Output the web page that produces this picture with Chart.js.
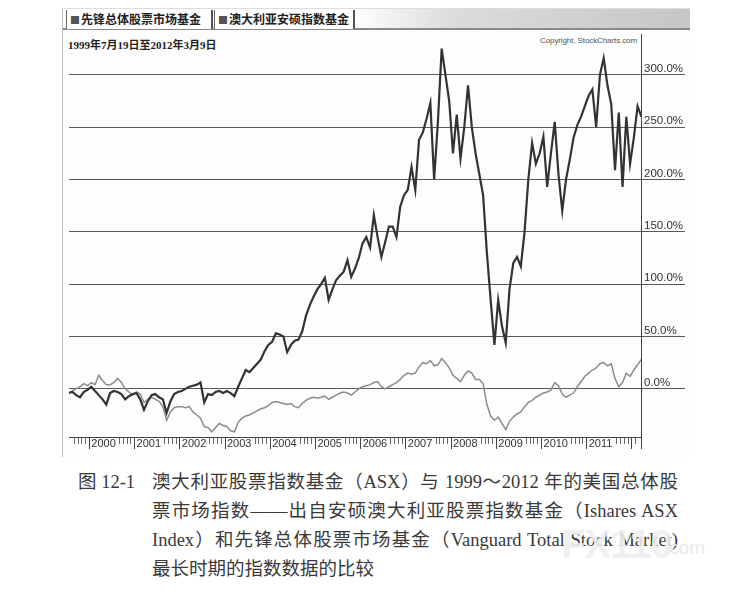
<!DOCTYPE html>
<html><head><meta charset="utf-8">
<script src="https://cdn.jsdelivr.net/npm/chart.js@4.4.1/dist/chart.umd.min.js"></script>
<style>
html,body{margin:0;padding:0;background:#fff;}
body{width:744px;height:597px;position:relative;overflow:hidden;font-family:"Liberation Sans",Arial,sans-serif;}
#frame{position:absolute;left:62px;top:8px;width:628px;height:449px;background:#fdfdfd;border-left:1px solid #bbb;border-top:1px solid #ddd;box-sizing:border-box;}
#legendbar{position:absolute;left:63px;top:9px;width:627px;height:19px;background:linear-gradient(to right,#fff 0%,#fff 46%,#dcdcdc 62%,#c6c6c6 100%);border-bottom:2px solid #8a8a8a;}
.lg{position:absolute;top:10px;height:19px;line-height:18px;font-family:"Noto Sans CJK SC";font-size:12px;font-weight:700;color:#222;background:#fff;border-left:1px solid #666;border-right:2px solid #555;box-sizing:border-box;padding:0 3px;white-space:nowrap;}
.lg span{color:#555;font-size:10px;margin-right:1px;}
#date{position:absolute;left:68px;top:36px;font-family:"Liberation Serif","Noto Sans CJK SC";font-size:11px;font-weight:700;color:#222;white-space:nowrap;}
#copy{position:absolute;left:540px;top:36px;font-family:"Liberation Sans";font-size:8px;color:#555;white-space:nowrap;letter-spacing:-0.1px;}
#chartbox{position:absolute;left:62px;top:28px;width:628px;height:430px;}
.cap{position:absolute;font-family:"Liberation Serif","Noto Sans CJK SC";font-size:18.5px;line-height:24px;color:#3a3a3a;white-space:nowrap;}
.j{text-align:justify;text-align-last:justify;white-space:normal;}
#wm{position:absolute;left:561px;top:522px;font-family:"Liberation Sans";font-weight:700;font-size:40px;color:rgba(238,238,238,0.9);letter-spacing:-1px;}
#wm2{position:absolute;left:664px;top:537px;font-family:"Liberation Sans";font-size:19px;color:rgba(232,232,232,0.95);}
</style>
</head><body>
<div id="frame"></div>
<div id="legendbar"></div>
<div class="lg" style="left:66px;width:147px;"><span>■</span>先锋总体股票市场基金</div>
<div class="lg" style="left:214px;width:141px;"><span>■</span>澳大利亚安硕指数基金</div>
<div id="date">1999年7月19日至2012年3月9日</div>
<div id="copy">Copyright, StockCharts.com</div>
<div id="chartbox"><canvas id="c"></canvas></div>

<div class="cap" style="left:78px;top:470px;">图 12-1</div>
<div class="cap j" style="left:152px;top:470px;width:526px;">澳大利亚股票指数基金（ASX）与 1999～2012 年的美国总体股</div>
<div class="cap j" style="left:152px;top:499px;width:526px;">票市场指数——出自安硕澳大利亚股票指数基金（Ishares ASX</div>
<div class="cap j" style="left:152px;top:528px;width:526px;">Index）和先锋总体股票市场基金（Vanguard Total Stock Market)</div>
<div class="cap" style="left:152px;top:557px;">最长时期的指数数据的比较</div>
<div id="wm">FX110</div>
<div id="wm2">.com</div>

<script>
// Monthly values, July 1999 .. March 2012 (percent change)
const startYear = 1999;
const startMonth = 7;
const yearLabels = ['2000','2001','2002','2003','2004','2005','2006','2007','2008','2009','2010','2011'];
const seriesNames = ['澳大利亚安硕指数基金','先锋总体股票市场基金'];

const asx = [
  -4,-3,-6,-8,-3,-1,
  2,-2,-6,-10,-15,-4,-2,-3,-5,-10,-7,-5,
  -4,-10,-20,-12,-6,-5,-8,-10,-23,-12,-5,-3,
  -2,0,2,3,4,6,-13,-5,-6,-3,-2,-4,
  -2,-4,-7,2,10,18,16,20,24,28,36,42,
  45,53,52,50,35,42,46,47,55,70,80,88,
  95,100,106,85,95,104,108,112,123,107,115,125,
  139,145,135,166,145,126,140,155,155,145,174,185,
  190,212,190,238,245,258,273,200,255,325,300,275,
  225,262,220,250,290,250,225,205,185,130,85,42,
  85,60,44,95,120,126,117,150,200,235,215,225,
  241,193,225,255,205,170,200,219,240,252,260,270,
  280,286,250,300,316,290,272,209,264,193,260,215,
  240,270,260
];
const vanguard = [
  -4,-2,0,2,5,3,
  6,4,13,8,4,4,6,10,6,0,-3,-6,
  -3,-5,-13,-10,-8,-10,-12,-17,-30,-22,-18,-17,
  -17,-18,-17,-22,-25,-28,-36,-37,-41,-37,-33,-35,
  -36,-40,-41,-32,-28,-26,-25,-23,-21,-19,-18,-16,
  -13,-12,-13,-14,-15,-14,-17,-18,-14,-11,-9,-8,
  -9,-8,-7,-10,-8,-6,-4,-3,-4,-6,-3,0,
  2,3,4,6,7,2,0,2,4,6,9,13,
  15,14,15,21,25,24,27,22,23,29,25,20,
  13,10,7,13,17,15,9,9,5,-15,-26,-30,
  -27,-33,-39,-31,-27,-24,-22,-17,-13,-11,-8,-6,
  -4,-3,-1,6,3,-5,-8,-6,-4,2,7,12,
  15,18,20,24,25,22,24,10,2,6,15,12,
  18,23,28
];

// month labels and their position (months since Jan 2000, mid-month)
const months = asx.map((_, i) => {
  const t = startMonth - 1 + i;
  return { year: startYear + Math.floor(t / 12), month: (t % 12) + 1 };
});
const monthPos = months.map(m => (m.year - 2000) * 12 + (m.month - 1) + 0.5);

const X_MIN = -5.4, X_MAX = 146.4; // 1999-07-19 .. 2012-03-09
const Y_MIN = -46, Y_MAX = 339;

function monthOf(v){ return ((v % 12) + 12) % 12; }
function xTickColor(ctx){
  const v = ctx.tick ? ctx.tick.value : null;
  if (v === null) return 'rgba(0,0,0,0)';
  if (v === X_MAX) return '#444';
  if (!Number.isInteger(v)) return 'rgba(0,0,0,0)';
  const mo = monthOf(v);
  const yi = Math.floor(v / 12);
  if (yi >= 0 && yi < yearLabels.length && mo >= 1 && mo <= 7) return 'rgba(0,0,0,0)';
  return mo === 0 ? '#444' : '#666';
}
function xTickDash(ctx){
  const v = ctx.tick ? ctx.tick.value : null;
  if (v === X_MAX) return [];
  if (v !== null && Number.isInteger(v) && monthOf(v) === 0) return [];
  return [6, 40];
}
function yGridColor(ctx){
  const v = ctx.tick ? ctx.tick.value : null;
  return (v !== null && v % 50 === 0) ? '#5a5a5a' : 'rgba(0,0,0,0)';
}

new Chart(document.getElementById('c'), {
  type: 'line',
  data: {
    datasets: [
      { label: seriesNames[0], data: asx.map((v, i) => ({x: monthPos[i], y: v})),
        borderColor: '#333333', borderWidth: 2.2, pointRadius: 0, tension: 0, order: 1 },
      { label: seriesNames[1], data: vanguard.map((v, i) => ({x: monthPos[i], y: v})),
        borderColor: '#8c8c8c', borderWidth: 1.5, pointRadius: 0, tension: 0, order: 2 }
    ]
  },
  options: {
    responsive: true, maintainAspectRatio: false, animation: false,
    layout: { padding: { left: 7, top: 6, right: 0, bottom: 0 } },
    plugins: { legend: { display: false }, tooltip: { enabled: false } },
    scales: {
      x: {
        type: 'linear', min: X_MIN, max: X_MAX,
        afterFit(s){ s.height = 21; },
        border: { display: true, color: '#444', width: 1 },
        grid: { drawOnChartArea: false, drawTicks: true, tickLength: 12,
                tickColor: xTickColor, tickBorderDash: xTickDash, tickWidth: 1 },
        ticks: { stepSize: 1, autoSkip: false, maxRotation: 0, minRotation: 0, align: 'start',
                 padding: -12, labelOffset: 2, color: '#333',
                 font: { family: 'Liberation Sans', size: 11 },
                 callback: (v) => {
                   if (Number.isInteger(v) && monthOf(v) === 0) { return yearLabels[v / 12] || ''; }
                   return '';
                 } }
      },
      y: {
        position: 'right', min: Y_MIN, max: Y_MAX,
        afterFit(s){ s.width = 49; },
        border: { display: true, color: '#444', width: 1 },
        grid: { color: yGridColor, lineWidth: 1, drawTicks: true, tickLength: 44, tickColor: yGridColor },
        ticks: { stepSize: 50, padding: -41, labelOffset: -6, color: '#333',
                 font: { family: 'Liberation Sans', size: 11.5 },
                 callback: (v) => (v % 50 === 0 ? v.toFixed(1) + '%' : '') }
      }
    }
  }
});
</script>
</body></html>
